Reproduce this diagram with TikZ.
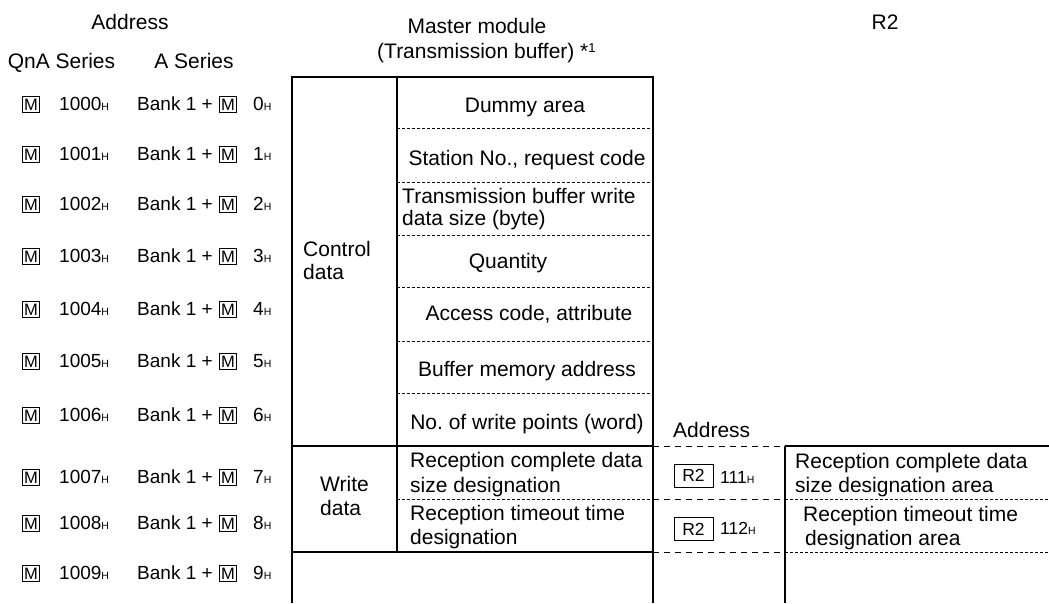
\documentclass[tikz,border=0pt]{standalone}
\usepackage{fontspec}
\setmainfont{Liberation Sans}
\frenchspacing
\newcommand\hx{{\fontsize{10.5}{10.5}\selectfont H}}
\tikzset{
  txt/.style={inner sep=0pt, font=\fontsize{21}{24}\selectfont},
  adr/.style={inner sep=0pt, font=\fontsize{19}{21}\selectfont},
  radr/.style={inner sep=0pt, font=\fontsize{17.5}{20}\selectfont},
  mbox/.style={draw, line width=0.8pt, inner sep=0pt, minimum width=17.5pt, minimum height=16pt,
    text height=12pt, text depth=0pt, font=\fontsize{16.5}{20}\selectfont},
  rbox/.style={draw, line width=0.9pt, inner sep=0pt, minimum width=39pt, minimum height=23pt,
    text height=12.5pt, text depth=0pt, font=\fontsize{17.5}{20}\selectfont},
  border/.style={line width=2pt},
  dsh/.style={line width=0.8pt, dash pattern=on 3pt off 2pt},
  ldsh/.style={line width=0.8pt, dash pattern=on 6pt off 5pt},
}
\begin{document}
\begin{tikzpicture}[x=1pt,y=-1pt]
\useasboundingbox (0,0) rectangle (1049,603);
% headers
\node[txt, anchor=base] (hadr) at (130,29) {Address};
\node[txt, anchor=base] (hqna) at (61.5,68) {QnA Series};
\node[txt, anchor=base] (hser) at (194,68) {A Series};
\node[txt, anchor=base] (hmm) at (477,33) {Master module};
\node[txt, anchor=base west] (htb) at (377,58) {(Transmission buffer) *\raisebox{6pt}{\fontsize{13}{13}\selectfont 1}};
\node[txt, anchor=base] (hr2) at (885,29) {R2};
% address rows
\foreach \i/\c in {0/104,1/154,2/204,3/256,4/309,5/361,6/415,7/477,8/523,9/573} {
  \node[mbox] (qm\i) at (31,\c) {M};
  \node[adr, anchor=base west] (qa\i) at (59,\c+6.5) {100\i\hx};
  \node[adr, anchor=base west] (bk\i) at (137,\c+6.5) {Bank 1 +};
  \node[mbox] (am\i) at (228,\c) {M};
  \node[adr, anchor=base west] (an\i) at (253,\c+6.5) {\i\hx};
}
% table lines
\draw[border] (292,603) -- (292,77) -- (653,77) -- (653,603);
\draw[border] (397,77) -- (397,552);
\draw[border] (292,446) -- (653,446);
\draw[border] (292,552) -- (653,552);
\foreach \y in {128,182,235,287,341,393,499} \draw[dsh] (397,\y) -- (653,\y);
% right part lines
\foreach \y in {446,499,552} \draw[ldsh] (653,\y) -- (785,\y);
\draw[border] (785,446) -- (1049,446);
\draw[border] (785,446) -- (785,603);
\foreach \y in {499,552} \draw[dsh] (785,\y) -- (1049,\y);
% table texts
\node[txt, anchor=base] (dummy) at (525,112) {Dummy area};
\node[txt, anchor=base] (stn) at (527,165) {Station No., request code};
\node[txt, anchor=base west] (tbw1) at (402,203) {Transmission buffer write};
\node[txt, anchor=base west] (tbw2) at (402,225) {data size (byte)};
\node[txt, anchor=base] (qty) at (508,268) {Quantity};
\node[txt, anchor=base] (acc) at (529,320) {Access code, attribute};
\node[txt, anchor=base] (bma) at (527,376) {Buffer memory address};
\node[txt, anchor=base] (nwp) at (527,429) {No. of write points (word)};
\node[txt, anchor=base west] (rc1) at (410,467) {Reception complete data};
\node[txt, anchor=base west] (rc2) at (410,492) {size designation};
\node[txt, anchor=base west] (rt1) at (410,520) {Reception timeout time};
\node[txt, anchor=base west] (rt2) at (410,544) {designation};
\node[txt, anchor=base west] (cd1) at (303,256) {Control};
\node[txt, anchor=base west] (cd2) at (303,279) {data};
\node[txt, anchor=base west] (wd1) at (320,491) {Write};
\node[txt, anchor=base west] (wd2) at (320,515) {data};
% right texts
\node[txt, anchor=base west] (radr) at (673,437) {Address};
\node[rbox] (rb1) at (693.5,475.5) {R2};
\node[radr, anchor=base west] (ra1) at (720,483) {111\hx};
\node[rbox] (rb2) at (693.5,529) {R2};
\node[radr, anchor=base west] (ra2) at (720,534) {112\hx};
\node[txt, anchor=base west] (ra3) at (795,468) {Reception complete data};
\node[txt, anchor=base west] (ra4) at (795,492) {size designation area};
\node[txt, anchor=base west] (ra5) at (803,521) {Reception timeout time};
\node[txt, anchor=base west] (ra6) at (805,545) {designation area};
\end{tikzpicture}
\end{document}
